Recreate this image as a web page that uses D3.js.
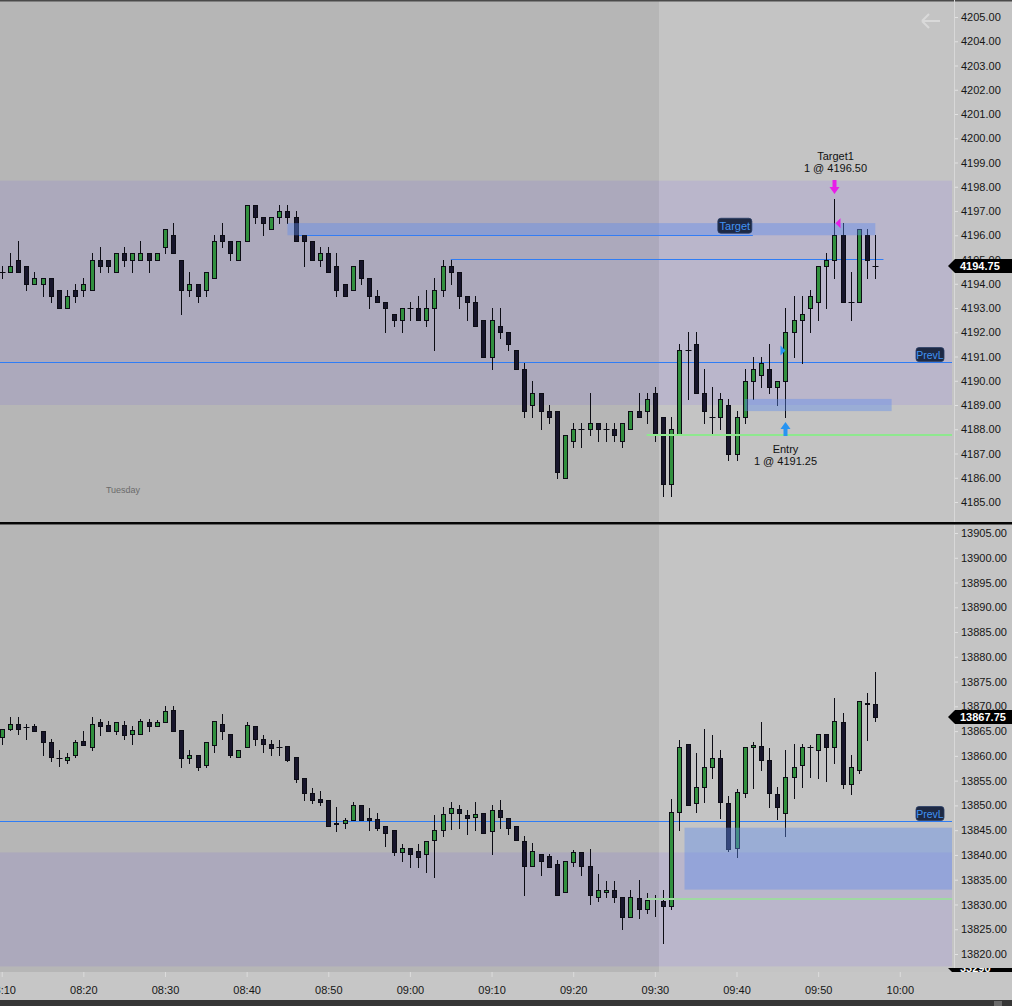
<!DOCTYPE html>
<html>
<head>
<meta charset="utf-8">
<script src="https://cdn.jsdelivr.net/npm/d3@7/dist/d3.min.js"></script>
<style>
html,body{margin:0;padding:0;background:#c4c4c4;}
svg{display:block;}
text{font-family:"Liberation Sans",Arial,sans-serif;}
</style>
</head>
<body>
<svg id="chart" width="1012" height="1006"></svg>
<script>
// ---------------- DATA ----------------
const firstBar = "08:10";
const lastBar = "09:57";
const sessionOpen = "09:31";
const dayLabel = "Tuesday";
const timeTickLabels = ["08:10","08:20","08:30","08:40","08:50","09:00","09:10","09:20","09:30","09:40","09:50","10:00"];
const esTickValues = [4185,4186,4187,4188,4189,4190,4191,4192,4193,4194,4195,4196,4197,4198,4199,4200,4201,4202,4203,4204,4205];
const nqTickValues = [13820,13825,13830,13835,13840,13845,13850,13855,13860,13865,13870,13875,13880,13885,13890,13895,13900,13905];

// ES (top panel) 1-minute OHLC, 08:10 .. 09:57
const esOpen = [4194.5,4194.5,4195.0,4194.75,4194.0,4194.0,4194.25,4193.75,4193.0,4193.75,
4193.75,4193.75,4195.0,4195.0,4194.5,4195.25,4195.0,4195.0,4195.25,4195.0,
4195.5,4196.0,4195.0,4193.75,4194.0,4193.75,4194.25,4196.0,4195.75,4195.0,
4195.75,4197.25,4196.75,4196.25,4196.75,4197.0,4196.75,4196.0,4195.75,4195.0,
4195.25,4194.75,4194.0,4193.75,4195.0,4194.25,4193.5,4193.25,4192.75,4192.5,
4193.0,4193.0,4192.5,4193.0,4193.75,4194.75,4194.5,4193.5,4193.25,4192.5,
4191.0,4192.25,4192.0,4191.25,4190.5,4189.0,4189.5,4188.75,4188.75,4186.0,
4187.5,4188.0,4188.0,4188.25,4188.0,4188.0,4187.5,4188.0,4188.75,4188.75,
4189.5,4188.5,4185.75,4187.75,4191.25,4191.5,4189.5,4188.5,4188.5,4189.0,
4187.0,4188.5,4190.0,4190.25,4190.5,4189.75,4190.0,4192.0,4192.5,4193.0,
4193.25,4194.75,4195.0,4196.0,4193.25,4193.25,4196.0,4194.75];
const esHigh = [4194.75,4195.25,4195.75,4194.75,4194.5,4194.25,4194.25,4193.75,4193.75,4194.0,
4194.25,4195.25,4195.5,4195.0,4195.25,4195.5,4195.25,4195.75,4195.25,4195.25,
4196.25,4196.5,4195.0,4194.5,4194.0,4194.5,4196.0,4196.5,4195.75,4195.75,
4197.25,4197.25,4196.75,4196.75,4197.25,4197.25,4197.0,4196.0,4195.75,4195.5,
4195.5,4195.25,4194.0,4194.75,4195.0,4194.25,4193.75,4193.25,4192.75,4193.0,
4193.25,4193.5,4193.75,4194.25,4195.0,4195.0,4194.5,4193.5,4193.5,4192.5,
4193.0,4193.0,4192.0,4191.25,4190.75,4190.0,4189.5,4189.0,4188.75,4187.75,
4188.25,4188.25,4189.5,4188.25,4188.25,4188.25,4188.25,4188.75,4189.5,4189.5,
4189.75,4188.5,4188.5,4191.5,4192.0,4192.0,4190.5,4189.75,4189.5,4189.25,
4188.75,4190.5,4191.0,4191.0,4191.5,4190.0,4193.0,4193.5,4193.5,4193.75,
4194.75,4195.25,4197.5,4196.5,4194.5,4196.25,4196.25,4196.0];
const esLow = [4194.25,4194.5,4194.5,4193.75,4194.0,4193.5,4193.25,4193.0,4193.0,4193.25,
4193.5,4193.75,4194.5,4194.5,4194.5,4194.75,4194.5,4195.0,4194.5,4195.0,
4195.25,4195.25,4192.75,4193.5,4193.25,4193.5,4194.25,4195.5,4195.0,4195.0,
4195.75,4196.5,4196.0,4196.25,4196.5,4196.5,4195.75,4194.75,4195.0,4194.75,
4194.5,4193.5,4193.5,4193.75,4194.0,4193.0,4193.25,4192.0,4192.25,4192.0,
4192.5,4192.5,4192.25,4191.25,4193.5,4194.0,4193.0,4192.5,4192.25,4191.0,
4190.5,4191.75,4191.25,4190.5,4188.5,4188.5,4188.0,4188.25,4186.0,4186.0,
4187.25,4187.25,4187.75,4187.5,4187.5,4187.5,4187.25,4188.0,4188.5,4188.25,
4187.5,4185.25,4185.25,4187.75,4189.25,4189.5,4188.25,4187.75,4188.0,4186.75,
4186.75,4188.25,4189.25,4189.75,4189.5,4189.0,4188.5,4191.0,4190.75,4192.0,
4192.5,4193.0,4194.25,4193.25,4192.5,4193.25,4194.25,4194.25];
const esClose = [4194.5,4194.75,4194.5,4194.0,4194.25,4194.25,4193.5,4193.0,4193.5,4193.5,
4194.0,4195.0,4194.75,4194.75,4195.25,4195.0,4195.25,4195.25,4195.0,4195.25,
4196.25,4195.25,4193.75,4194.0,4193.5,4194.5,4195.75,4195.75,4195.25,4195.75,
4197.25,4196.75,4196.5,4196.75,4197.0,4196.75,4195.75,4195.75,4195.0,4195.25,
4194.5,4193.75,4193.5,4194.75,4194.25,4193.5,4193.25,4193.0,4192.5,4193.0,
4193.0,4192.5,4193.0,4193.75,4194.75,4194.5,4193.5,4193.25,4192.25,4191.0,
4192.5,4192.0,4191.5,4190.5,4188.75,4189.5,4188.75,4188.5,4186.25,4187.75,
4188.0,4188.0,4188.25,4188.0,4188.0,4187.75,4188.25,4188.75,4188.5,4189.25,
4187.75,4185.75,4188.0,4191.25,4191.25,4189.5,4188.75,4188.5,4189.25,4187.0,
4188.5,4190.0,4190.5,4190.75,4189.75,4190.0,4192.0,4192.5,4192.75,4193.5,
4194.75,4195.0,4196.0,4193.25,4193.25,4196.25,4195.0,4194.75];

// NQ (bottom panel) 1-minute OHLC, 08:10 .. 09:57
const nqOpen = [13863.75,13865.5,13866.5,13865.75,13866.0,13865.0,13862.75,13859.5,13859.25,13860.25,
13863.0,13861.75,13866.75,13866.25,13865.0,13866.25,13864.5,13864.5,13866.75,13866.0,
13866.75,13869.25,13865.25,13859.5,13860.25,13858.25,13862.25,13866.5,13864.5,13859.75,
13861.75,13866.0,13863.5,13862.5,13861.75,13862.0,13859.75,13855.5,13852.5,13851.25,
13851.0,13846.25,13846.5,13847.0,13850.0,13847.5,13847.25,13845.75,13845.0,13840.5,
13841.5,13840.75,13840.25,13843.0,13845.0,13848.5,13849.25,13848.0,13847.75,13848.5,
13844.75,13849.0,13847.5,13845.75,13842.75,13837.75,13840.25,13839.75,13838.25,13832.5,
13838.5,13840.5,13837.75,13831.5,13832.5,13833.0,13831.5,13827.5,13831.25,13829.0,
13831.25,13830.75,13829.75,13848.75,13862.5,13850.5,13853.75,13857.75,13859.5,13850.5,
13841.5,13852.5,13861.75,13862.0,13859.25,13852.25,13848.5,13855.75,13858.25,13861.75,
13861.25,13864.5,13861.75,13866.75,13854.25,13857.25,13870.75,13870.5];
const nqHigh = [13865.5,13867.75,13867.75,13866.5,13866.5,13865.0,13863.5,13861.25,13860.5,13863.25,
13865.0,13867.75,13867.5,13867.0,13866.75,13867.0,13866.0,13867.5,13867.5,13867.25,
13870.0,13870.0,13865.25,13861.25,13860.25,13862.75,13867.0,13868.5,13864.5,13861.25,
13866.75,13866.0,13864.25,13863.25,13863.25,13862.0,13859.75,13855.5,13853.5,13853.0,
13851.0,13849.75,13847.5,13850.75,13850.0,13849.5,13848.5,13845.75,13845.0,13842.25,
13841.5,13842.25,13842.75,13848.0,13849.75,13850.75,13850.0,13849.0,13850.75,13848.5,
13850.0,13851.0,13847.5,13845.75,13843.75,13842.5,13840.25,13840.25,13839.0,13838.75,
13841.0,13840.5,13841.25,13836.25,13834.75,13834.75,13831.5,13833.0,13835.0,13832.25,
13832.0,13833.0,13851.25,13863.25,13862.5,13860.5,13865.5,13864.25,13861.25,13852.0,
13853.25,13861.75,13862.75,13866.75,13861.5,13853.75,13861.25,13862.5,13862.5,13862.25,
13864.5,13864.5,13871.75,13868.75,13860.25,13871.0,13872.75,13877.0];
const nqLow = [13862.5,13865.25,13864.5,13863.5,13865.0,13860.25,13859.0,13858.0,13858.5,13859.75,
13862.25,13861.25,13864.25,13865.0,13864.5,13863.5,13862.5,13864.5,13865.0,13866.0,
13866.75,13865.0,13857.75,13858.5,13857.25,13857.75,13860.75,13863.5,13859.75,13859.75,
13861.75,13862.25,13860.75,13860.25,13860.25,13859.0,13854.75,13851.0,13850.5,13850.0,
13845.75,13844.75,13845.5,13847.0,13847.0,13845.0,13845.0,13841.75,13840.0,13838.75,
13837.5,13837.5,13836.5,13835.5,13843.75,13845.25,13845.5,13844.25,13845.0,13844.5,
13840.25,13845.5,13844.25,13843.0,13832.0,13837.75,13836.0,13837.5,13832.0,13832.5,
13837.75,13836.0,13830.0,13830.75,13831.5,13830.5,13825.0,13827.5,13827.25,13828.25,
13827.75,13822.25,13829.0,13845.0,13850.0,13848.75,13850.75,13855.5,13847.5,13840.75,
13839.5,13851.75,13853.5,13857.25,13849.75,13847.25,13843.75,13851.5,13853.75,13855.75,
13855.5,13855.0,13858.5,13853.5,13852.25,13856.5,13863.25,13867.0];
const nqClose = [13865.5,13866.5,13865.5,13865.75,13865.0,13862.75,13859.75,13859.5,13859.75,13862.75,
13862.25,13866.5,13866.0,13865.0,13866.75,13864.25,13865.25,13867.0,13866.0,13866.75,
13869.0,13865.0,13859.5,13860.25,13857.75,13862.75,13867.0,13865.0,13860.25,13861.25,
13866.25,13863.5,13862.5,13861.5,13861.75,13859.25,13855.25,13852.5,13851.0,13850.75,
13845.75,13846.5,13847.0,13850.0,13847.0,13847.0,13845.5,13844.5,13840.5,13841.5,
13840.25,13839.5,13842.75,13845.0,13848.25,13849.5,13848.5,13847.5,13848.25,13844.5,
13849.0,13847.75,13845.5,13843.0,13837.75,13840.75,13838.75,13837.5,13832.0,13838.75,
13840.5,13837.75,13832.0,13833.0,13833.0,13831.5,13827.5,13831.5,13829.0,13831.0,
13831.25,13829.75,13848.75,13861.75,13850.0,13853.75,13857.75,13859.5,13850.75,13841.25,
13852.75,13861.75,13862.25,13859.25,13852.5,13849.75,13855.75,13857.75,13861.75,13861.75,
13864.5,13861.75,13867.0,13854.25,13857.75,13871.0,13870.5,13867.75];

// levels / zones
const esBand = [4189.0, 4198.25];
const esPrevLow = 4190.75;
const esTargetZone = [4196.0, 4196.5];
const esTargetZoneTimes = ["08:45", "09:57"];
const esTargetLine = 4196.0;
const esTargetLineTimes = ["08:46", "09:42"];
const esLevelLine = 4195.0;
const esLevelLineTimes = ["09:05", "09:58"];
const esLowerZone = [4188.75, 4189.25];
const esLowerZoneTimes = ["09:41", "09:59"];
const esGreenLine = 4187.75;
const nqBand = [13817.5, 13840.5];
const nqPrevLow = 13846.75;
const nqZone = [13833.0, 13845.5];
const nqZoneStart = "09:34";
const nqGreenLine = 13831.0;
const greenLineStart = "09:29";
const esLast = 4194.75;
const nqLast = 13867.75;
const hiddenTagText = "33290";

// executions
const execNames = ["Entry", "Target1"];
const execTimes = ["09:46", "09:52"];
const execPrices = [4191.25, 4196.50];
const execQty = [1, 1];

// ---------------- CHART ----------------
const W = 1012, H = 1006;
const plotRight = 952, axisX = 954;
const topPanel = {y0: 0, y1: 522};
const botPanel = {y0: 525, y1: 972};
const timeAxisY = 972;

const parseT = d3.timeParse("%H:%M");
const barTimes = d3.timeMinute.range(parseT(firstBar), d3.timeMinute.offset(parseT(lastBar), 1));
const x = d3.scaleTime().domain([parseT(firstBar), parseT(lastBar)]).range([1.7, 875.3]);
const yES = d3.scaleLinear().domain([4185, 4205]).range([502, 17]);
const yNQ = d3.scaleLinear().domain([13820, 13905]).range([954, 533]);
const splitX = (x(d3.timeMinute.offset(parseT(sessionOpen), -1)) + x(parseT(sessionOpen))) / 2;

const svg = d3.select("#chart");
const defs = svg.append("defs");
defs.append("clipPath").attr("id","clipTop").append("rect").attr("x",0).attr("y",topPanel.y0).attr("width",plotRight).attr("height",topPanel.y1-topPanel.y0);
defs.append("clipPath").attr("id","clipBot").append("rect").attr("x",0).attr("y",botPanel.y0).attr("width",plotRight).attr("height",botPanel.y1-botPanel.y0);
defs.append("clipPath").attr("id","clipHidden").append("rect").attr("x",940).attr("y",968).attr("width",80).attr("height",10);

svg.append("rect").attr("width",W).attr("height",H).attr("fill","#c4c4c4");

const BLUE = "#2f7df5";
const ZONE = "rgba(96,140,235,0.42)";
const BAND = "rgba(134,114,241,0.16)";

function hline(g, y, x1, x2, color, w) {
  const yy = Math.floor(y) + (w % 2 ? 0.5 : 0);
  g.append("line").attr("x1",x1).attr("x2",x2).attr("y1",yy).attr("y2",yy)
    .attr("stroke",color).attr("stroke-width",w);
}

function tagLabel(g, text, xRight, yLine) {
  const w = 28, h = 14;
  g.append("rect").attr("x",xRight-w).attr("y",yLine-h-1).attr("width",w).attr("height",h)
    .attr("rx",3).attr("fill","#1d2944").attr("stroke","#2a3d66").attr("stroke-width",0.8);
  g.append("text").attr("x",xRight-w/2).attr("y",yLine-h/2-1).attr("text-anchor","middle")
    .attr("dominant-baseline","central").attr("font-size",10.5).attr("fill","#4193f5").text(text);
}

function drawCandles(g, y, O, Hh, L, C) {
  const bars = barTimes.map((t, i) => ({t, o: O[i], h: Hh[i], l: L[i], c: C[i]}));
  const sel = g.selectAll("g.bar").data(bars).join("g").attr("class","bar");
  sel.each(function(d) {
    const cx = Math.round(x(d.t)) + 0.5;
    const gg = d3.select(this);
    gg.append("line").attr("x1",cx).attr("x2",cx)
      .attr("y1",Math.round(y(d.h))).attr("y2",Math.round(y(d.l))+1)
      .attr("stroke","#0c0c14").attr("stroke-width",1);
    if (d.o === d.c) {
      const yy = Math.round(y(d.o)) + 0.5;
      gg.append("line").attr("x1",cx-3).attr("x2",cx+3).attr("y1",yy).attr("y2",yy)
        .attr("stroke","#0c0c14").attr("stroke-width",1);
    } else {
      const top = Math.round(y(Math.max(d.o, d.c))) + 0.5;
      const bot = Math.round(y(Math.min(d.o, d.c))) + 0.5;
      gg.append("rect").attr("x",cx-2).attr("y",top).attr("width",4).attr("height",Math.max(1, bot-top))
        .attr("fill", d.c > d.o ? "#31903e" : "#17152b")
        .attr("stroke","#0c0c14").attr("stroke-width",1);
    }
  });
}

function priceTag(g, yc, text) {
  const h = 7;
  g.append("polygon")
    .attr("points", [[948,yc],[955,yc-h],[W,yc-h],[W,yc+h],[955,yc+h]].map(p=>p.join(",")).join(" "))
    .attr("fill","#000");
  g.append("text").attr("x",960).attr("y",yc).attr("dominant-baseline","central")
    .attr("font-size",11).attr("font-weight","bold").attr("fill","#fff").text(text);
}

function yAxis(y, ticks, panel) {
  const ax = svg.append("g").attr("transform",`translate(${axisX},0)`)
    .call(d3.axisRight(y).tickValues(ticks).tickFormat(d3.format(".2f")).tickSize(4).tickPadding(3));
  ax.select(".domain").remove();
  ax.selectAll(".tick line").attr("stroke","#e2e2e2");
  ax.selectAll(".tick text").attr("font-size",11).attr("fill","#161616")
    .attr("font-family",'"Liberation Sans",Arial,sans-serif');
  svg.append("line").attr("x1",axisX+0.5).attr("x2",axisX+0.5).attr("y1",panel.y0).attr("y2",panel.y1)
    .attr("stroke","#d8d8d8").attr("stroke-width",1);
}

// ----- TOP PANEL -----
{
  const g = svg.append("g").attr("clip-path","url(#clipTop)");
  const y = yES;
  g.append("rect").attr("x",0).attr("y",topPanel.y0).attr("width",plotRight).attr("height",topPanel.y1-topPanel.y0).attr("fill","#c4c4c4");
  g.append("rect").attr("x",0).attr("width",plotRight).attr("y",y(esBand[1])).attr("height",y(esBand[0])-y(esBand[1])).attr("fill",BAND);
  g.append("rect").attr("x",0).attr("y",topPanel.y0).attr("width",splitX).attr("height",topPanel.y1-topPanel.y0).attr("fill","rgba(0,0,0,0.07)");
  // lines
  hline(g, y(esPrevLow), 0, plotRight, BLUE, 1);
  hline(g, y(esTargetLine), x(parseT(esTargetLineTimes[0])), x(parseT(esTargetLineTimes[1])), BLUE, 1);
  hline(g, y(esLevelLine), x(parseT(esLevelLineTimes[0])), x(parseT(esLevelLineTimes[1])), BLUE, 1);
  drawCandles(g, y, esOpen, esHigh, esLow, esClose);
  hline(g, y(esGreenLine), x(parseT(greenLineStart)), plotRight, "#8ee88e", 2);
  // zones on top
  g.append("rect").attr("x",x(parseT(esTargetZoneTimes[0]))).attr("width",x(parseT(esTargetZoneTimes[1]))-x(parseT(esTargetZoneTimes[0])))
    .attr("y",y(esTargetZone[1])).attr("height",y(esTargetZone[0])-y(esTargetZone[1])).attr("fill",ZONE);
  g.append("rect").attr("x",x(parseT(esLowerZoneTimes[0]))).attr("width",x(parseT(esLowerZoneTimes[1]))-x(parseT(esLowerZoneTimes[0])))
    .attr("y",y(esLowerZone[1])).attr("height",y(esLowerZone[0])-y(esLowerZone[1])).attr("fill",ZONE);
  // labels
  const tRight = x(parseT(esTargetLineTimes[1])) - 1;
  g.append("rect").attr("x",tRight-34).attr("y",y(esTargetLine)-17).attr("width",34).attr("height",15)
    .attr("rx",3).attr("fill","#1d2944").attr("stroke","#2a3d66").attr("stroke-width",0.8);
  g.append("text").attr("x",tRight-17).attr("y",y(esTargetLine)-9.5).attr("text-anchor","middle")
    .attr("dominant-baseline","central").attr("font-size",11).attr("fill","#4193f5").text("Target");
  tagLabel(g, "PrevL", 944, y(esPrevLow));
  // day label
  g.append("text").attr("x",123).attr("y",490).attr("text-anchor","middle").attr("dominant-baseline","central")
    .attr("font-size",9).attr("fill","#6b6b6b").text(dayLabel);
  // back arrow icon
  g.append("path").attr("d","M922,21 L940,21 M922,21 L929,14 M922,21 L929,28")
    .attr("stroke","#d9d9d9").attr("stroke-width",2).attr("fill","none");

  // executions
  execNames.forEach((name, k) => {
    const t = parseT(execTimes[k]);
    const idx = barTimes.findIndex(b => +b === +t);
    const cx = Math.round(x(t)) + 0.5;
    const isEntry = k === 0;
    const col = isEntry ? "#2794f2" : "#e81ee8";
    const py = y(execPrices[k]);
    if (isEntry) {
      const tip = Math.round(y(esLow[idx])) + 5;
      g.append("polygon").attr("points",
        [[cx,tip],[cx+5,tip+7],[cx+2,tip+7],[cx+2,tip+14],[cx-2,tip+14],[cx-2,tip+7],[cx-5,tip+7]].map(p=>p.join(",")).join(" "))
        .attr("fill",col);
      g.append("polygon").attr("points",[[cx,py],[cx-5,py-5],[cx-5,py+5]].map(p=>p.join(",")).join(" ")).attr("fill",col);
      g.append("text").attr("x",cx).attr("y",tip+27).attr("text-anchor","middle").attr("dominant-baseline","central")
        .attr("font-size",11).attr("fill","#111").text(name);
      g.append("text").attr("x",cx).attr("y",tip+39).attr("text-anchor","middle").attr("dominant-baseline","central")
        .attr("font-size",11).attr("fill","#111").text(`${execQty[k]} @ ${execPrices[k].toFixed(2)}`);
    } else {
      const tip = Math.round(y(esHigh[idx])) - 5;
      g.append("polygon").attr("points",
        [[cx,tip],[cx+5,tip-7],[cx+2,tip-7],[cx+2,tip-14],[cx-2,tip-14],[cx-2,tip-7],[cx-5,tip-7]].map(p=>p.join(",")).join(" "))
        .attr("fill",col);
      g.append("polygon").attr("points",[[cx+1,py],[cx+6,py-5],[cx+6,py+5]].map(p=>p.join(",")).join(" ")).attr("fill",col);
      g.append("text").attr("x",cx+1).attr("y",tip-38).attr("text-anchor","middle").attr("dominant-baseline","central")
        .attr("font-size",11).attr("fill","#111").text(name);
      g.append("text").attr("x",cx+1).attr("y",tip-26).attr("text-anchor","middle").attr("dominant-baseline","central")
        .attr("font-size",11).attr("fill","#111").text(`${execQty[k]} @ ${execPrices[k].toFixed(2)}`);
    }
  });
}

// ----- BOTTOM PANEL -----
{
  const g = svg.append("g").attr("clip-path","url(#clipBot)");
  const y = yNQ;
  g.append("rect").attr("x",0).attr("y",botPanel.y0).attr("width",plotRight).attr("height",botPanel.y1-botPanel.y0).attr("fill","#c4c4c4");
  g.append("rect").attr("x",0).attr("width",plotRight).attr("y",y(nqBand[1])).attr("height",y(nqBand[0])-y(nqBand[1])).attr("fill",BAND);
  g.append("rect").attr("x",0).attr("y",botPanel.y0).attr("width",splitX).attr("height",botPanel.y1-botPanel.y0).attr("fill","rgba(0,0,0,0.07)");
  hline(g, y(nqPrevLow), 0, plotRight, BLUE, 1);
  drawCandles(g, y, nqOpen, nqHigh, nqLow, nqClose);
  hline(g, y(nqGreenLine), x(parseT(greenLineStart)), plotRight, "#9fd8a2", 2);
  g.append("rect").attr("x",x(parseT(nqZoneStart))-3).attr("width",plotRight-x(parseT(nqZoneStart))+3)
    .attr("y",y(nqZone[1])).attr("height",y(nqZone[0])-y(nqZone[1])).attr("fill",ZONE);
  tagLabel(g, "PrevL", 944, y(nqPrevLow));
}

// separators and borders
svg.append("rect").attr("x",0).attr("y",522).attr("width",W).attr("height",2.5).attr("fill","#050505");
svg.append("rect").attr("x",0).attr("y",0).attr("width",W).attr("height",1.5).attr("fill","#4a4a4a");

// y axes
yAxis(yES, esTickValues, topPanel);
yAxis(yNQ, nqTickValues, botPanel);
priceTag(svg, Math.round(yES(esLast)), esLast.toFixed(2));
priceTag(svg, Math.round(yNQ(nqLast)), nqLast.toFixed(2));

// hidden indicator tag (mostly clipped)
{
  const g = svg.append("g").attr("clip-path","url(#clipHidden)");
  priceTag(g, 968, hiddenTagText);
}

// time axis
{
  svg.append("rect").attr("x",0).attr("y",timeAxisY).attr("width",W).attr("height",28).attr("fill","#c6c6c6");
  const ax = svg.append("g").attr("transform",`translate(0,${timeAxisY})`)
    .call(d3.axisBottom(x).tickValues(timeTickLabels.map(parseT)).tickFormat(d3.timeFormat("%H:%M")).tickSize(5).tickPadding(9));
  ax.select(".domain").remove();
  ax.selectAll(".tick line").attr("stroke","#dcdcdc");
  ax.selectAll(".tick text").attr("font-size",11).attr("fill","#161616")
    .attr("font-family",'"Liberation Sans",Arial,sans-serif');
  svg.append("rect").attr("x",0).attr("y",1000).attr("width",W).attr("height",6).attr("fill","#363636");
  svg.append("rect").attr("x",994).attr("y",1001).attr("width",8).attr("height",5).attr("fill","#6a6a6a");
}
</script>
</body>
</html>
